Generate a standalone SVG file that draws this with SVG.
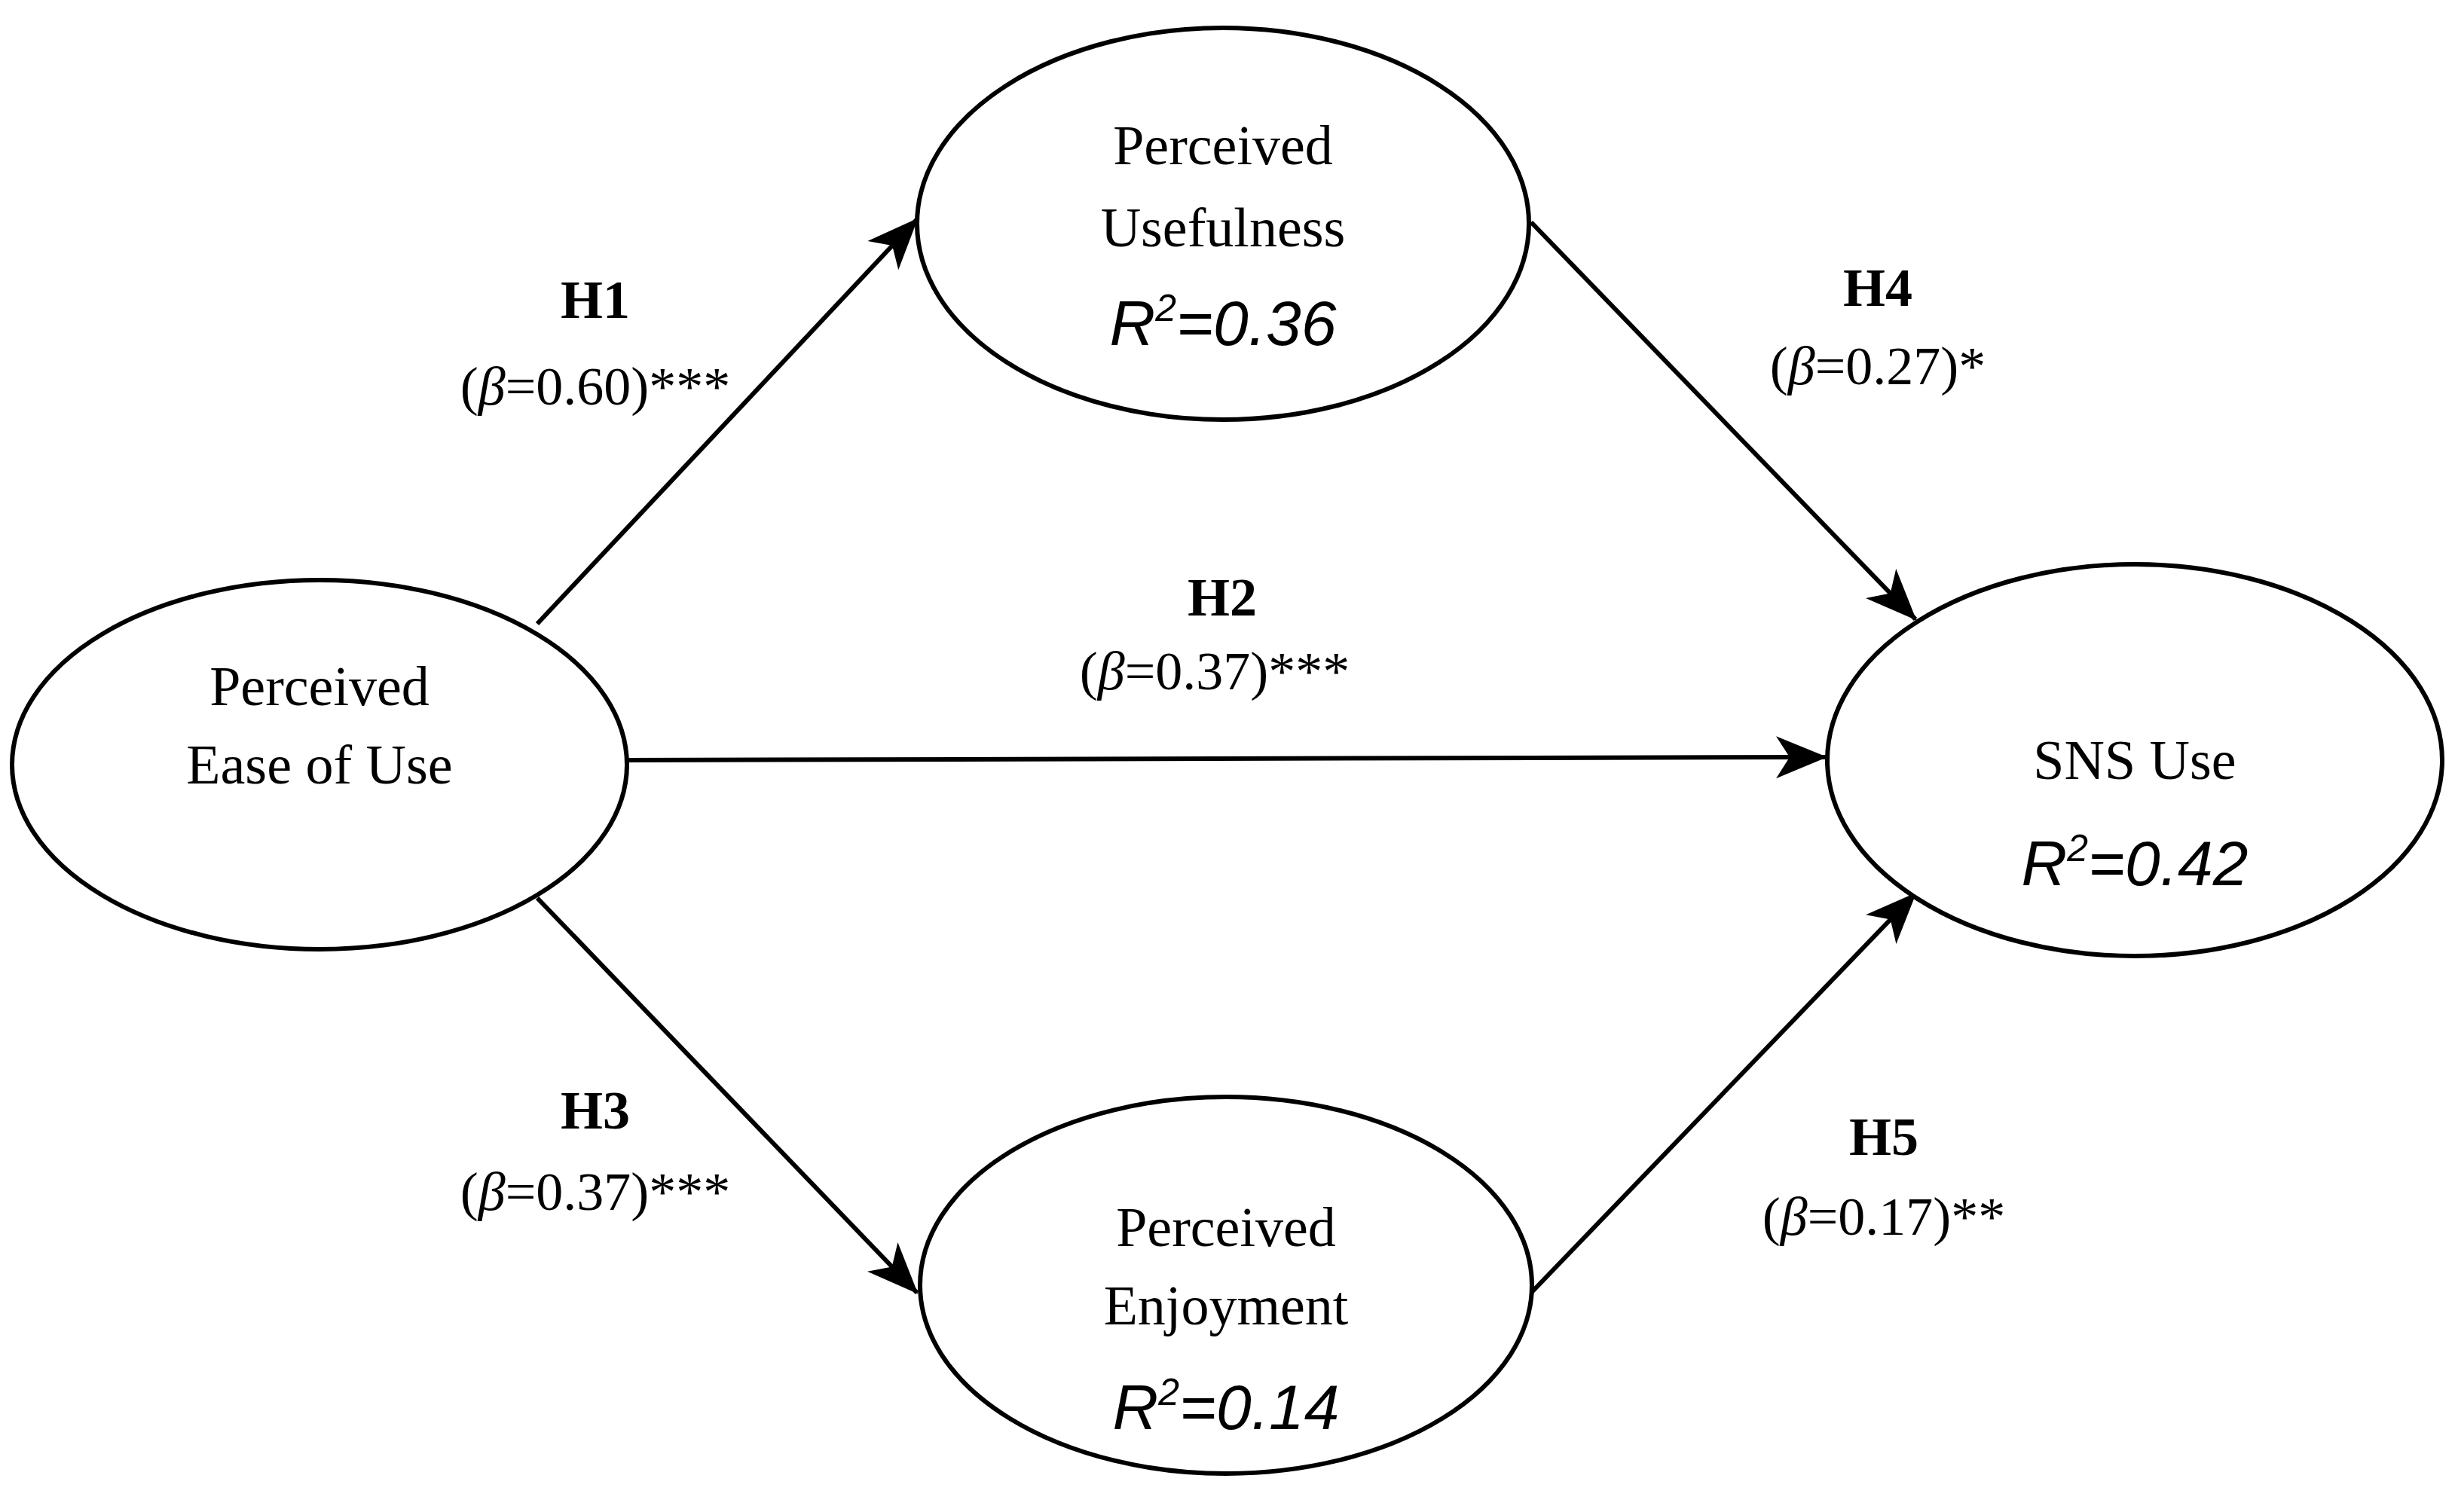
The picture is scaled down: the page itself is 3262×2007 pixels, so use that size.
<svg xmlns="http://www.w3.org/2000/svg" width="3262" height="2007" viewBox="0 0 3262 2007">
<style>
.n{fill:#fff;stroke:#000;stroke-width:6}
.t{font-family:"Liberation Serif",serif;font-size:74px;text-anchor:middle}
.r{font-family:"Liberation Sans",sans-serif;font-style:italic;font-size:84px;text-anchor:middle}
.h{font-family:"Liberation Serif",serif;font-size:72px;font-weight:bold;text-anchor:middle}
.b{font-family:"Liberation Serif",serif;font-size:72px;text-anchor:middle}
.c{stroke:#000;stroke-width:6;fill:none;marker-end:url(#a)}
</style>
<defs>
<marker id="a" markerUnits="userSpaceOnUse" markerWidth="70" markerHeight="60" viewBox="0 0 70 60" refX="66" refY="30" orient="auto">
<path d="M0,2 L68,30 L0,58 L18,30 Z" fill="#000"/>
</marker>
</defs>
<rect width="3262" height="2007" fill="#fff"/>
<g id="connectors">
<line class="c" x1="713" y1="828" x2="1217" y2="291"/>
<line class="c" x1="832" y1="1009" x2="2423" y2="1005"/>
<line class="c" x1="713" y1="1192" x2="1217" y2="1716"/>
<line class="c" x1="2032" y1="295" x2="2542" y2="822"/>
<line class="c" x1="2032" y1="1716" x2="2542" y2="1186"/>
</g>
<g id="labels">
<text class="h" x="790" y="422">H1</text>
<text class="b" x="790" y="537">(<tspan font-style="italic">β</tspan>=0.60)***</text>
<text class="h" x="1622" y="817">H2</text>
<text class="b" x="1612" y="915">(<tspan font-style="italic">β</tspan>=0.37)***</text>
<text class="h" x="790" y="1498">H3</text>
<text class="b" x="790" y="1606">(<tspan font-style="italic">β</tspan>=0.37)***</text>
<text class="h" x="2492" y="406">H4</text>
<text class="b" x="2492" y="510">(<tspan font-style="italic">β</tspan>=0.27)*</text>
<text class="h" x="2500" y="1533">H5</text>
<text class="b" x="2500" y="1639">(<tspan font-style="italic">β</tspan>=0.17)**</text>
</g>
<g id="peou">
<ellipse class="n" cx="424" cy="1015" rx="408" ry="245"/>
<text class="t" x="424" y="936">Perceived</text>
<text class="t" x="424" y="1040">Ease of Use</text>
</g>
<g id="pu">
<ellipse class="n" cx="1623" cy="297" rx="406" ry="260"/>
<text class="t" x="1623" y="218">Perceived</text>
<text class="t" x="1623" y="327">Usefulness</text>
<text class="r" x="1623" y="458">R<tspan font-size="50" dy="-32">2</tspan><tspan dy="32">=0.36</tspan></text>
</g>
<g id="pe">
<ellipse class="n" cx="1627" cy="1706" rx="406" ry="250"/>
<text class="t" x="1627" y="1654">Perceived</text>
<text class="t" x="1627" y="1758">Enjoyment</text>
<text class="r" x="1627" y="1897">R<tspan font-size="50" dy="-32">2</tspan><tspan dy="32">=0.14</tspan></text>
</g>
<g id="sns">
<ellipse class="n" cx="2833" cy="1009" rx="408" ry="260"/>
<text class="t" x="2833" y="1034">SNS Use</text>
<text class="r" x="2833" y="1175">R<tspan font-size="50" dy="-32">2</tspan><tspan dy="32">=0.42</tspan></text>
</g>
</svg>
